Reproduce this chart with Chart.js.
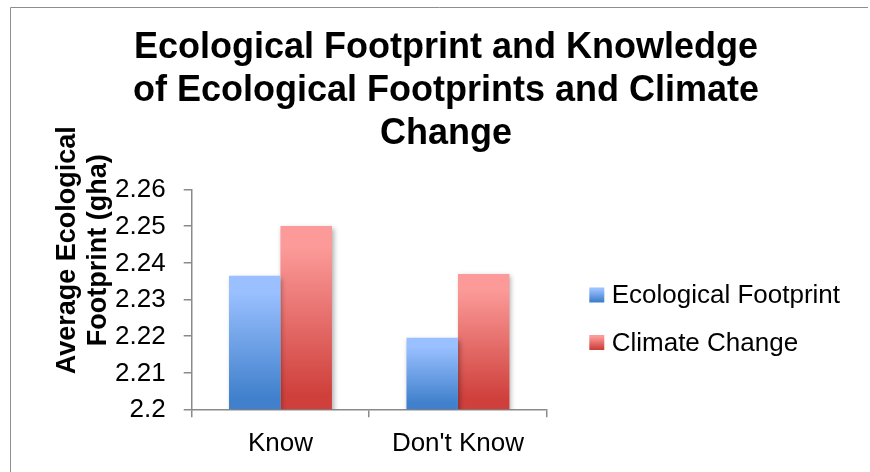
<!DOCTYPE html>
<html>
<head>
<meta charset="utf-8">
<script src="https://cdn.jsdelivr.net/npm/chart.js@4.4.1/dist/chart.umd.min.js"></script>
<style>
  html, body { margin: 0; padding: 0; background: #ffffff; }
  #wrap { width: 870px; height: 472px; }
</style>
</head>
<body>
<div id="wrap"><canvas id="chart" width="870" height="472"></canvas></div>
<script>
// Survey groups and average footprint values (gha)
const categories = ['Know', "Don't Know"];
const seriesNames = ['Ecological Footprint', 'Climate Change'];
const ecologicalFootprint = [2.2364, 2.2195];
const climateChange = [2.25, 2.2369];
const yTickLabels = ['2.2', '2.21', '2.22', '2.23', '2.24', '2.25', '2.26'];
const titleLines = ['Ecological Footprint and Knowledge', 'of Ecological Footprints and Climate', 'Change'];
const yTitleLines = ['Average Ecological', 'Footprint (gha)'];

const FONT = "'Liberation Sans', Arial, Helvetica, sans-serif";
const AXIS_GRAY = '#8a8a8a';
const BLUE = { light: '#9ac0ff', dark: '#4080cc' };
const RED = { light: '#fb9a98', dark: '#cf403c' };

function fillGradient(ctx, top, bottom, c) {
  const g = ctx.createLinearGradient(0, top, 0, bottom);
  g.addColorStop(0, c.light);
  g.addColorStop(0.12, c.light);
  g.addColorStop(0.92, c.dark);
  g.addColorStop(1, c.dark);
  return g;
}

// Each bar gets its own top-to-bottom gradient
function barFill(c) {
  return (context) => {
    const chart = context.chart;
    if (!chart.chartArea || context.type !== 'data') return c.dark;
    const y = chart.scales.y;
    const top = y.getPixelForValue(context.raw);
    const base = y.getPixelForValue(y.min);
    if (!isFinite(top) || !isFinite(base) || top === base) return c.dark;
    return fillGradient(chart.ctx, top, base, c);
  };
}

// Right-hand legend, registered as a layout box so it reserves its own column
const sideLegend = {
  id: 'sideLegend',
  start(chart) {
    const box = {
      position: 'right',
      weight: 1000,
      fullSize: false,
      options: {},
      width: 0,
      height: 0,
      isHorizontal() { return false; },
      update(maxWidth, maxHeight) {
        this.width = 323.3;
        this.height = maxHeight;
      },
      draw() {
        const ctx = chart.ctx;
        const area = chart.chartArea;
        const colors = [BLUE, RED];
        ctx.save();
        ctx.font = '26px ' + FONT;
        ctx.textAlign = 'left';
        ctx.textBaseline = 'middle';
        chart.data.datasets.forEach((ds, i) => {
          const cy = area.top + 105.7 + i * 47.5;
          const sx = area.right + 42.6;
          ctx.fillStyle = fillGradient(ctx, cy - 7.5, cy + 7.5, colors[i]);
          ctx.fillRect(sx, cy - 7.5, 15, 15);
          ctx.fillStyle = '#000000';
          ctx.fillText(ds.label, sx + 22.4, cy + 1);
        });
        ctx.restore();
      }
    };
    chart._sideLegendBox = box;
    Chart.layouts.addBox(chart, box);
  },
  stop(chart) {
    if (chart._sideLegendBox) Chart.layouts.removeBox(chart, chart._sideLegendBox);
  }
};

// Outer frame lines and the two-line vertical axis title
const decorations = {
  id: 'decorations',
  beforeDraw(chart) {
    const ctx = chart.ctx;
    ctx.save();
    ctx.strokeStyle = '#8e8e8e';
    ctx.lineWidth = 1;
    ctx.beginPath();
    ctx.moveTo(10.5, 472);
    ctx.lineTo(10.5, 7.5);
    ctx.lineTo(868, 7.5);
    ctx.stroke();
    ctx.restore();
  },
  afterDraw(chart) {
    const ctx = chart.ctx;
    const area = chart.chartArea;
    ctx.save();
    ctx.font = 'bold 27px ' + FONT;
    ctx.fillStyle = '#000000';
    ctx.textAlign = 'center';
    ctx.textBaseline = 'alphabetic';
    const cy = area.top + 61;
    const xs = [area.left - 116.7, area.left - 86.2];
    yTitleLines.forEach((t, i) => {
      ctx.save();
      ctx.translate(xs[i], cy);
      ctx.rotate(-Math.PI / 2);
      ctx.fillText(t, 0, 0);
      ctx.restore();
    });
    ctx.restore();
  }
};

// Soft drop shadow behind the bars
const barShadow = {
  id: 'barShadow',
  beforeDatasetsDraw(chart) {
    const ctx = chart.ctx;
    ctx.save();
    ctx.shadowColor = 'rgba(0,0,0,0.32)';
    ctx.shadowBlur = 5;
    ctx.shadowOffsetX = 2;
    ctx.shadowOffsetY = 2;
  },
  afterDatasetsDraw(chart) {
    chart.ctx.restore();
  }
};

new Chart(document.getElementById('chart'), {
  type: 'bar',
  data: {
    labels: categories,
    datasets: [
      { label: seriesNames[0], data: ecologicalFootprint, backgroundColor: barFill(BLUE), borderWidth: 0 },
      { label: seriesNames[1], data: climateChange, backgroundColor: barFill(RED), borderWidth: 0 }
    ]
  },
  options: {
    responsive: false,
    devicePixelRatio: 1,
    animation: false,
    datasets: { bar: { categoryPercentage: 0.58, barPercentage: 1.0 } },
    layout: { padding: { left: 22, right: 0, top: 0, bottom: 12.7 } },
    plugins: {
      legend: { display: false },
      tooltip: { enabled: false },
      title: {
        display: true,
        text: titleLines,
        color: '#000000',
        font: { family: FONT, size: 36, weight: 'bold', lineHeight: 43 / 36 },
        padding: { top: 26.7, bottom: 33.6 }
      }
    },
    scales: {
      x: {
        z: 1,
        grid: { display: true, drawOnChartArea: false, drawTicks: true, tickLength: 8, offset: true, color: AXIS_GRAY, lineWidth: 1.5 },
        border: { display: true, color: AXIS_GRAY, width: 1.5 },
        ticks: { color: '#000000', font: { family: FONT, size: 26 }, padding: 11.2 },
        afterFit(scale) { scale.height = 50; }
      },
      y: {
        z: 1,
        min: 2.2,
        max: 2.26,
        grid: { display: true, drawOnChartArea: false, drawTicks: true, tickLength: 8, color: AXIS_GRAY, lineWidth: 1.5 },
        border: { display: true, color: AXIS_GRAY, width: 1.5 },
        ticks: {
          stepSize: 0.01,
          color: '#000000',
          font: { family: FONT, size: 26 },
          padding: 18,
          labelOffset: 1,
          callback: (value, index) => yTickLabels[index] !== undefined ? yTickLabels[index] : value
        },
        afterFit(scale) { scale.width = 169.7; }
      }
    }
  },
  plugins: [sideLegend, decorations, barShadow]
});
</script>
</body>
</html>
